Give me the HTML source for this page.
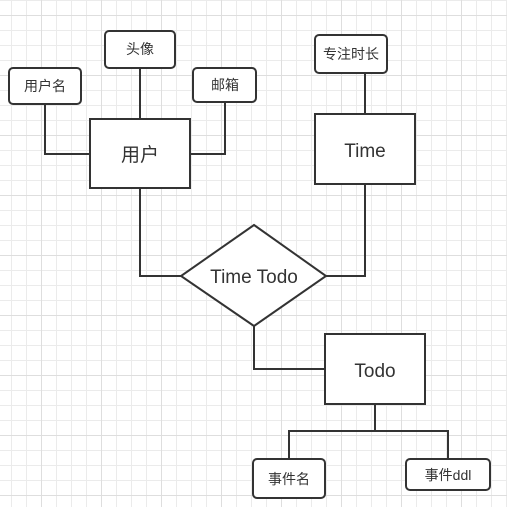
<!DOCTYPE html>
<html><head><meta charset="utf-8"><style>
html,body{margin:0;padding:0;background:#fff}
svg{display:block}
text{font-family:"Liberation Sans","Noto Sans CJK SC",sans-serif;fill:#333}
</style></head><body>
<svg width="507" height="507" viewBox="0 0 507 507" xmlns="http://www.w3.org/2000/svg">
<defs>
<pattern id="g" x="11" y="0" width="15" height="15" patternUnits="userSpaceOnUse">
<path d="M0.5 0V15M0 0.5H15" stroke="#ebebeb" stroke-width="1" fill="none"/>
</pattern>
<pattern id="G" x="41" y="15" width="60" height="60" patternUnits="userSpaceOnUse">
<path d="M0.5 0V60M0 0.5H60" stroke="#dedede" stroke-width="1" fill="none"/>
</pattern>
</defs>
<rect width="507" height="507" fill="url(#g)"/>
<rect width="507" height="507" fill="url(#G)"/>
<g stroke="#333" stroke-width="2" fill="none">
<polyline points="45,104 45,154 90,154"/>
<line x1="140" y1="68" x2="140" y2="119"/>
<polyline points="225,102 225,154 190,154"/>
<polyline points="140,188 140,276 181,276"/>
<line x1="365" y1="73" x2="365" y2="114"/>
<polyline points="365,184 365,276 326,276"/>
<polyline points="254,326 254,369 325,369"/>
<line x1="375" y1="404" x2="375" y2="431"/>
<polyline points="289,459 289,431 448,431 448,459"/>
</g>
<g stroke="#333" stroke-width="2" fill="#fff">
<rect x="9" y="68" width="72" height="36" rx="4"/>
<rect x="105" y="31" width="70" height="37" rx="4"/>
<rect x="193" y="68" width="63" height="34" rx="4"/>
<rect x="90" y="119" width="100" height="69"/>
<rect x="315" y="35" width="72" height="38" rx="4"/>
<rect x="315" y="114" width="100" height="70"/>
<polygon points="254,225 326,276 254,326 181,276"/>
<rect x="325" y="334" width="100" height="70"/>
<rect x="253" y="459" width="72" height="39" rx="4"/>
<rect x="406" y="459" width="84" height="31" rx="4"/>
</g>
<g text-anchor="middle">
<text x="45" y="91" font-size="14">用户名</text>
<text x="140" y="54" font-size="14">头像</text>
<text x="225" y="90" font-size="14">邮箱</text>
<text x="140" y="161" font-size="19">用户</text>
<text x="351" y="59" font-size="14">专注时长</text>
<text x="365" y="157" font-size="19">Time</text>
<text x="254" y="283" font-size="19">Time Todo</text>
<text x="375" y="377" font-size="19">Todo</text>
<text x="289" y="484" font-size="14">事件名</text>
<text x="448" y="480" font-size="14">事件ddl</text>
</g>
</svg>
</body></html>
